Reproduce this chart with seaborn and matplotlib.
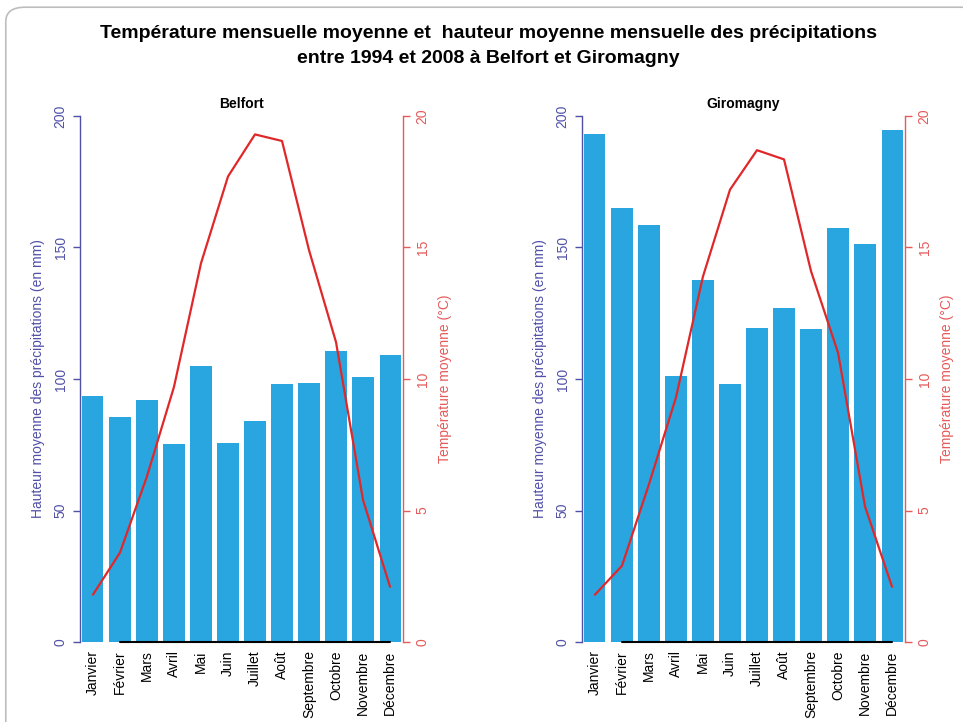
import matplotlib
matplotlib.use("Agg")
import matplotlib.pyplot as plt
from matplotlib.patches import FancyBboxPatch
import numpy as np
import pandas as pd
import seaborn as sns

months = ["Janvier", "Février", "Mars", "Avril", "Mai", "Juin", "Juillet",
          "Août", "Septembre", "Octobre", "Novembre", "Décembre"]

# hauteur moyenne des précipitations (mm)
rain_belfort = [93.5, 85.7, 92, 75.2, 105, 75.6, 84.2, 98, 98.5, 110.8, 100.9, 109.1]
rain_giromagny = [193.2, 164.9, 158.5, 101.3, 137.6, 98.1, 119.3, 126.9, 118.9, 157.3, 151.3, 194.7]

# température moyenne (°C)
temp_belfort = [1.8, 3.4, 6.3, 9.7, 14.4, 17.7, 19.3, 19.05, 14.9, 11.4, 5.4, 2.1]
temp_giromagny = [1.8, 2.9, 6.0, 9.3, 13.9, 17.2, 18.7, 18.35, 14.1, 11.0, 5.15, 2.1]

stations = ["Belfort", "Giromagny"]

BAR = "#29a6df"
RED = "#e0282a"
AX_BLUE = "#5050a8"
AX_RED = "#e65a5a"

sns.set_style("white")
plt.rcParams["font.family"] = ["Liberation Sans", "DejaVu Sans"]
plt.rcParams["text.color"] = "black"

fig = plt.figure(figsize=(9.63, 7.22), dpi=100)

# cadre arrondi autour de la figure
frame = FancyBboxPatch((0.006, -0.05), 1.05, 1.04, boxstyle="round,pad=0,rounding_size=0.02",
                       transform=fig.transFigure, facecolor="none", edgecolor="#bdbdbd",
                       linewidth=1.2)
fig.patches.append(frame)

fig.text(0.507, 0.953, "Température mensuelle moyenne et  hauteur moyenne mensuelle des précipitations",
         ha="center", va="center", fontsize=14, fontweight="bold")
fig.text(0.507, 0.919, "entre 1994 et 2008 à Belfort et Giromagny",
         ha="center", va="center", fontsize=14, fontweight="bold")

lefts = [80 / 963, 582 / 963]
rains = [rain_belfort, rain_giromagny]
temps = [temp_belfort, temp_giromagny]

for left, name, rain, temp in zip(lefts, stations, rains, temps):
    ax = fig.add_axes([left, 1 - 642 / 722, 323 / 963, 526 / 722])
    df = pd.DataFrame({"mois": months, "pluie": rain, "temp": temp, "pos": np.arange(12)})
    sns.barplot(data=df, x="mois", y="pluie", color=BAR, width=0.78, saturation=1,
                linewidth=0, ax=ax)
    ax.set_xlim(-0.48, 11.48)
    ax.set_ylim(0, 200)
    ax.set_yticks([0, 50, 100, 150, 200])
    ax.set_xlabel("")
    ax.set_ylabel("Hauteur moyenne des précipitations (en mm)", color=AX_BLUE, fontsize=10, labelpad=6)
    ax.tick_params(axis="y", colors=AX_BLUE, labelsize=10, length=5, width=1, direction="out",
                   labelrotation=90, pad=4)
    for lab in ax.get_yticklabels():
        lab.set_va("center")
    ax.tick_params(axis="x", labelrotation=90, labelsize=10, length=0, pad=6, colors="black")
    for s in ["top", "right", "bottom"]:
        ax.spines[s].set_visible(False)
    ax.spines["left"].set_color(AX_BLUE)
    ax.spines["left"].set_linewidth(1)
    ax.plot([1, 11], [0, 0], color="black", lw=1.5, clip_on=False, zorder=5)
    ax.set_title(name, fontsize=10, fontweight="bold", pad=6, color="black")

    ax2 = ax.twinx()
    sns.lineplot(data=df, x="pos", y="temp", color=RED, lw=1.6, ax=ax2)
    ax2.set_ylim(0, 20)
    ax2.set_yticks([0, 5, 10, 15, 20])
    ax2.set_ylabel("Température moyenne (°C)", color=AX_RED, fontsize=10, labelpad=6)
    ax2.tick_params(axis="y", colors=AX_RED, labelsize=10, length=5, width=1, direction="out",
                    labelrotation=90, pad=4)
    for lab in ax2.get_yticklabels():
        lab.set_va("center")
    for s in ["top", "left", "bottom"]:
        ax2.spines[s].set_visible(False)
    ax2.spines["right"].set_color(AX_RED)
    ax2.spines["right"].set_linewidth(1)
    ax2.set_xlabel("")

fig.savefig("out.png", dpi=100)
